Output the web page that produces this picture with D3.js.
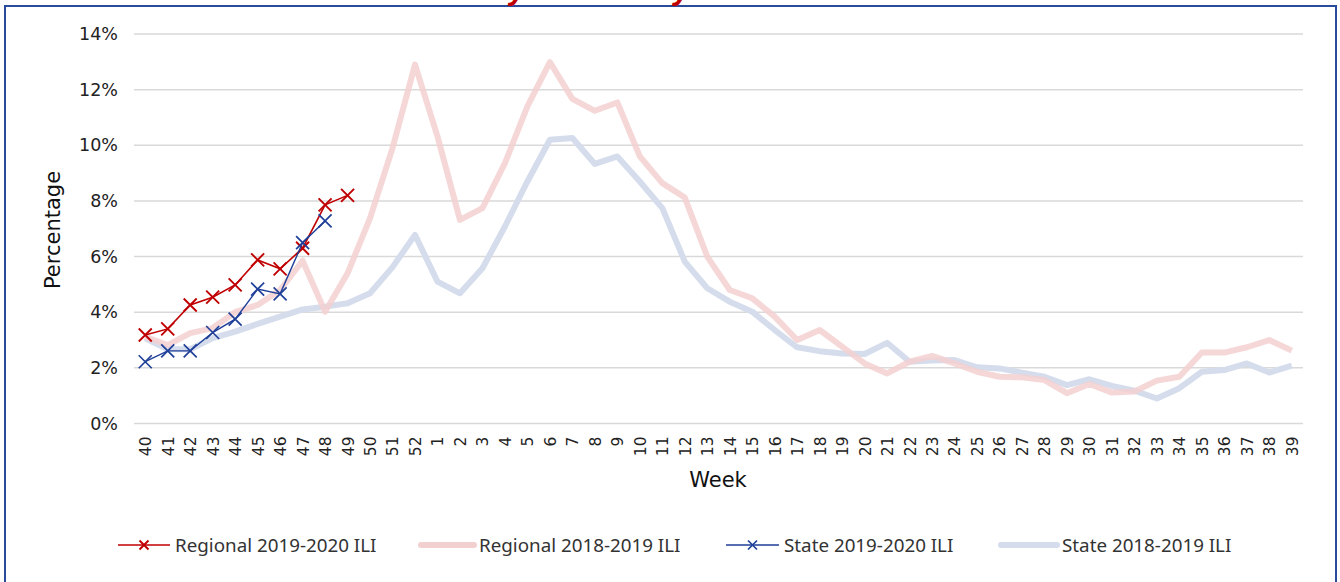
<!DOCTYPE html>
<html>
<head>
<meta charset="utf-8">
<script src="https://cdn.jsdelivr.net/npm/d3@7"></script>
<style>
  html, body { margin: 0; padding: 0; background: #fff; }
  svg { display: block; }
</style>
</head>
<body>
<svg id="chart"></svg>
<script>
const WIDTH = 1340;
const HEIGHT = 582;

const weeks = [
  "40", "41", "42", "43", "44", "45", "46", "47", "48", "49", "50", "51", "52",
  "1", "2", "3", "4", "5", "6", "7", "8", "9", "10", "11", "12", "13", "14", "15",
  "16", "17", "18", "19", "20", "21", "22", "23", "24", "25", "26", "27", "28",
  "29", "30", "31", "32", "33", "34", "35", "36", "37", "38", "39",
];

const yTicks = [0, 2, 4, 6, 8, 10, 12, 14];

// percentages
const regional1819 = [
  3.12, 2.82, 3.25, 3.43, 4.0, 4.26, 4.8, 5.85, 4.02, 5.4, 7.38, 9.9, 12.9,
  10.32, 7.32, 7.74, 9.36, 11.4, 12.99, 11.67, 11.24, 11.54, 9.6, 8.64, 8.12, 6.0, 4.8, 4.5,
  3.84, 3.0, 3.36, 2.76, 2.16, 1.8, 2.22, 2.43, 2.16, 1.86, 1.68, 1.66, 1.56,
  1.09, 1.42, 1.11, 1.15, 1.54, 1.68, 2.55, 2.55, 2.74, 3.0, 2.62,
];

const state1819 = [
  3.06, 2.67, 2.67, 3.07, 3.3, 3.58, 3.84, 4.1, 4.2, 4.32, 4.68, 5.62, 6.78,
  5.1, 4.68, 5.58, 7.08, 8.7, 10.2, 10.26, 9.33, 9.6, 8.7, 7.74, 5.82, 4.86, 4.38, 4.02,
  3.36, 2.74, 2.6, 2.52, 2.5, 2.9, 2.22, 2.26, 2.28, 2.02, 1.98, 1.83, 1.68,
  1.38, 1.59, 1.35, 1.18, 0.9, 1.27, 1.86, 1.92, 2.16, 1.83, 2.08,
];

const regional1920 = [3.18, 3.4, 4.26, 4.54, 4.98, 5.88, 5.56, 6.3, 7.86, 8.2];
const state1920 = [2.22, 2.61, 2.61, 3.27, 3.75, 4.83, 4.66, 6.5, 7.28];

const legendLabels = [
  "Regional 2019-2020 ILI",
  "Regional 2018-2019 ILI",
  "State 2019-2020 ILI",
  "State 2018-2019 ILI",
];

const RED = "#c00000";
const BLUE = "#1f3f99";
const PINK = "#f3d0d0";
const GREYBLUE = "#d5dded";
const FONT = "'DejaVu Sans', Verdana, sans-serif";
const LEGEND_FONT = "'Noto Sans', sans-serif";

const svg = d3.select("#chart").attr("width", WIDTH).attr("height", HEIGHT);

// frame
svg.append("rect")
  .attr("x", 5).attr("y", 6)
  .attr("width", 1331).attr("height", 590)
  .attr("fill", "#fff")
  .attr("stroke", "#2a4b9b")
  .attr("stroke-width", 2);

// title sits above the frame, only its descenders show
svg.append("text")
  .attr("x", 420)
  .attr("y", -1)
  .attr("font-family", "'Liberation Sans', sans-serif")
  .attr("font-weight", "bold")
  .attr("font-style", "italic")
  .attr("font-size", 31)
  .attr("fill", RED)
  .text("Weekly ILI Activity");

const x = d3.scalePoint().domain(weeks).range([134, 1303]).padding(0.5);
const y = d3.scaleLinear().domain([0, 14]).range([423.5, 34]);

// grid
svg.append("g")
  .selectAll("line")
  .data(yTicks)
  .join("line")
  .attr("x1", 134).attr("x2", 1303)
  .attr("y1", (d) => y(d)).attr("y2", (d) => y(d))
  .attr("stroke", "#d9d9d9")
  .attr("stroke-width", 1.5);

// y axis labels
const yAxis = svg.append("g")
  .attr("transform", "translate(134,0)")
  .call(d3.axisLeft(y).tickValues(yTicks).tickSize(0).tickPadding(16).tickFormat((d) => d + "%"));
yAxis.select(".domain").remove();
yAxis.selectAll("text")
  .attr("font-family", FONT)
  .attr("font-size", 17.5)
  .attr("fill", "#222");

// x axis labels
const xAxis = svg.append("g")
  .attr("transform", "translate(0,423.5)")
  .call(d3.axisBottom(x).tickSize(0).tickPadding(0));
xAxis.select(".domain").remove();
xAxis.selectAll("text")
  .attr("font-family", FONT)
  .attr("font-size", 15.5)
  .attr("fill", "#222")
  .attr("text-anchor", "end")
  .attr("transform", "rotate(-90)")
  .attr("x", -13)
  .attr("y", 0)
  .attr("dy", "0.35em");

// axis titles
svg.append("text")
  .attr("x", 718)
  .attr("y", 487)
  .attr("text-anchor", "middle")
  .attr("font-family", FONT)
  .attr("font-size", 21)
  .attr("fill", "#111")
  .text("Week");

svg.append("text")
  .attr("transform", "translate(60,230) rotate(-90)")
  .attr("text-anchor", "middle")
  .attr("font-family", FONT)
  .attr("font-size", 21)
  .attr("fill", "#111")
  .text("Percentage");

const line = d3.line()
  .x((d, i) => x(weeks[i]))
  .y((d) => y(d));

// last season, thick pale lines
svg.append("path")
  .attr("d", line(state1819))
  .attr("fill", "none")
  .attr("stroke", GREYBLUE)
  .attr("stroke-width", 6)
  .attr("stroke-linejoin", "round");

svg.append("path")
  .attr("d", line(regional1819))
  .attr("fill", "none")
  .attr("stroke", PINK)
  .attr("stroke-opacity", 0.85)
  .attr("stroke-width", 6)
  .attr("stroke-linejoin", "round");

const crossPath = (s) => `M${-s},${-s}L${s},${s}M${-s},${s}L${s},${-s}`;

const drawSeries = (values, color, width, size) => {
  svg.append("path")
    .attr("d", line(values))
    .attr("fill", "none")
    .attr("stroke", color)
    .attr("stroke-width", width);
  svg.append("g")
    .selectAll("path")
    .data(values)
    .join("path")
    .attr("transform", (d, i) => `translate(${x(weeks[i])},${y(d)})`)
    .attr("d", crossPath(size))
    .attr("stroke", color)
    .attr("stroke-width", width + 0.3);
};

drawSeries(regional1920, RED, 1.6, 6.5);
drawSeries(state1920, BLUE, 1.4, 6.5);

// legend
const legendItems = [
  { label: legendLabels[0], color: RED, width: 1.6, marker: true, x0: 118, x1: 170 },
  { label: legendLabels[1], color: PINK, width: 6, marker: false, x0: 421, x1: 474 },
  { label: legendLabels[2], color: BLUE, width: 1.4, marker: true, x0: 726, x1: 779 },
  { label: legendLabels[3], color: GREYBLUE, width: 6, marker: false, x0: 1001, x1: 1057 },
];

const legend = svg.append("g");
legendItems.forEach((item) => {
  const g = legend.append("g").attr("transform", "translate(0,545)");
  g.append("line")
    .attr("x1", item.x0).attr("x2", item.x1)
    .attr("stroke", item.color)
    .attr("stroke-width", item.width)
    .attr("stroke-linecap", item.marker ? "butt" : "round");
  if (item.marker) {
    g.append("path")
      .attr("transform", `translate(${(item.x0 + item.x1) / 2},0)`)
      .attr("d", crossPath(4.5))
      .attr("stroke", item.color)
      .attr("stroke-width", item.width + 0.3);
  }
  g.append("text")
    .attr("x", item.x1 + 5)
    .attr("dy", "0.35em")
    .attr("font-family", LEGEND_FONT)
    .attr("font-size", 18.8)
    .attr("fill", "#333")
    .text(item.label);
});
</script>
</body>
</html>
